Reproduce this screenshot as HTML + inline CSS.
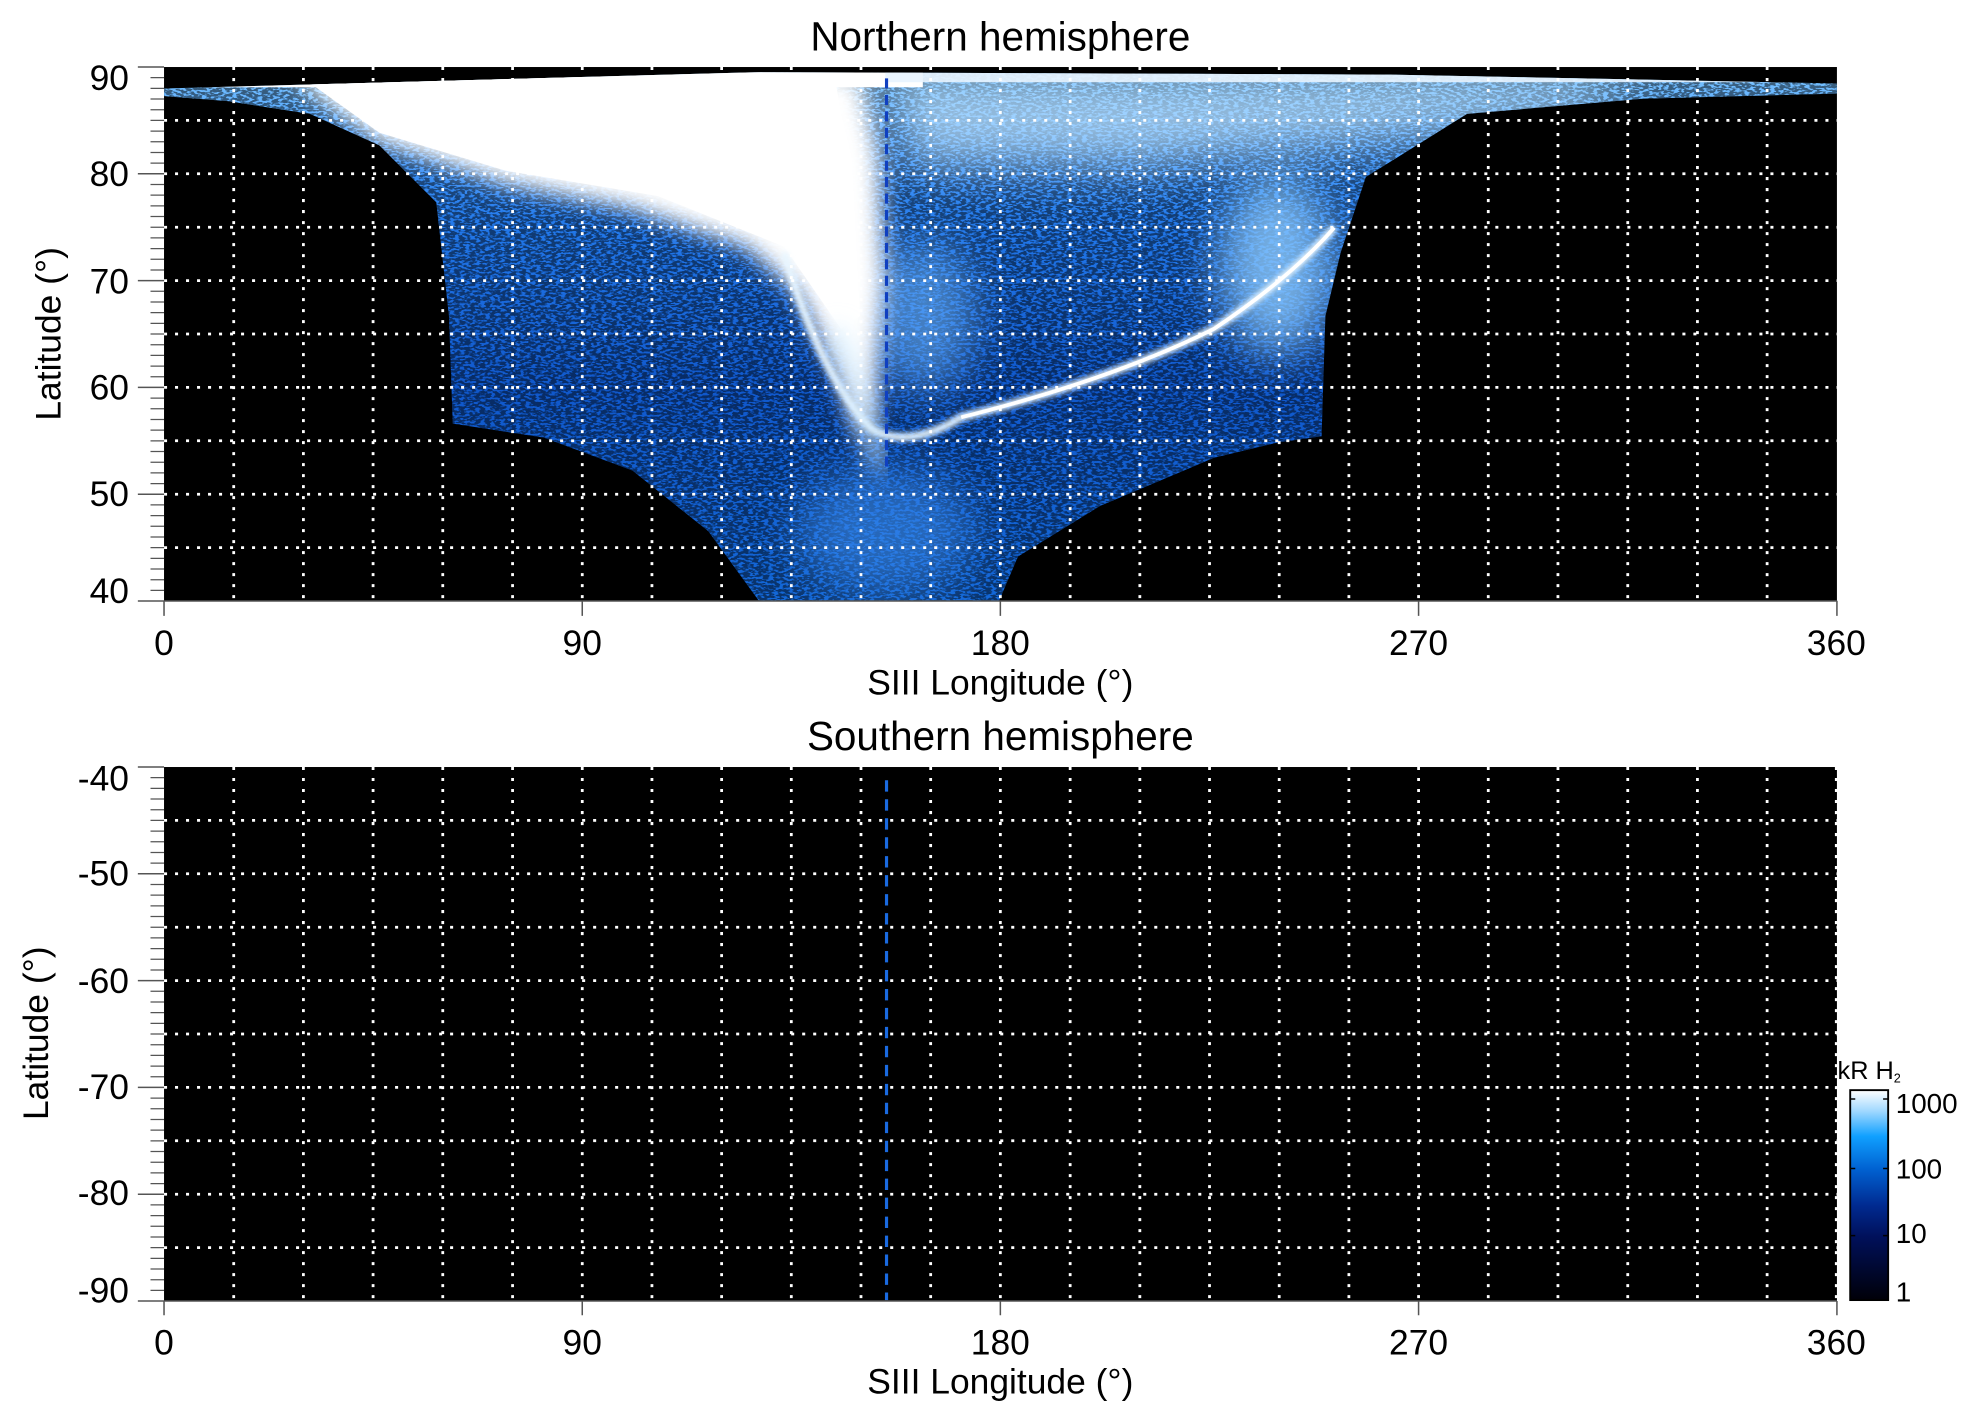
<!DOCTYPE html>
<html><head><meta charset="utf-8"><style>html,body{margin:0;padding:0;background:#fff}svg{display:block}</style></head>
<body>
<svg width="1983" height="1423" viewBox="0 0 1568 1125.2" xmlns="http://www.w3.org/2000/svg" font-family="Liberation Sans, Arial, sans-serif">
<defs>
<linearGradient id="cb" x1="0" y1="1" x2="0" y2="0">
<stop offset="0" stop-color="#000008"/><stop offset="0.3" stop-color="#00105a"/><stop offset="0.45" stop-color="#002a90"/><stop offset="0.62" stop-color="#0060d0"/><stop offset="0.78" stop-color="#10a0ff"/><stop offset="0.9" stop-color="#a0d8ff"/><stop offset="1" stop-color="#ffffff"/>
</linearGradient>
<linearGradient id="base" x1="0" y1="0" x2="0" y2="1">
<stop offset="0" stop-color="#80c8ff"/><stop offset="0.12" stop-color="#4aa0ff"/><stop offset="0.3" stop-color="#2278ea"/><stop offset="0.6" stop-color="#1058cc"/><stop offset="1" stop-color="#1468d8"/>
</linearGradient>
<filter id="bl" x="-20%" y="-20%" width="140%" height="140%"><feGaussianBlur stdDeviation="9"/></filter>
<filter id="bl3" x="-50%" y="-50%" width="200%" height="200%"><feGaussianBlur stdDeviation="18"/></filter>
<filter id="bl2"><feGaussianBlur stdDeviation="2"/></filter>
<filter id="noise" x="0" y="0" width="100%" height="100%">
<feTurbulence type="fractalNoise" baseFrequency="0.25 0.6" numOctaves="2" seed="3" result="t"/>
<feColorMatrix in="t" type="matrix" values="0 0 0 0 0  0 0 0 0 0  0 0 0 0 0  0 0 0 -9 5.3" result="m"/>
<feComposite in="m" in2="SourceGraphic" operator="in"/>
</filter>
<clipPath id="c1"><rect x="129.7" y="53" width="1322.8" height="422.2"/></clipPath>
<clipPath id="aur"><path d="M129.7,70 L600,57 L1100,59 L1452.5,66 L1452.5,74 L1300,78 L1160,90 L1080,140 L1060,200 L1048,250 L1045,345 L1010,350 L960,362 L870,400 L805,440 L790,475 L600,475 L560,420 L500,372 L430,346 L358,335 L355,250 L345,160 L300,115 L245,90 L180,80 L129.7,76 Z"/></clipPath>
</defs>

<rect x="129.7" y="53" width="1322.8" height="422.2" fill="#000"/>
<g clip-path="url(#c1)">
<g clip-path="url(#aur)">
<rect x="129.7" y="53" width="1322.8" height="422.2" fill="url(#base)"/>
<rect x="129.7" y="53" width="1322.8" height="422.2" fill="#000" filter="url(#noise)" opacity="0.5"/>
<ellipse cx="1010" cy="210" rx="45" ry="70" fill="#8ccaff" filter="url(#bl3)" opacity="0.8"/>
<ellipse cx="730" cy="250" rx="40" ry="60" fill="#6ab4ff" filter="url(#bl3)" opacity="0.6"/>
<ellipse cx="700" cy="420" rx="70" ry="50" fill="#3a8cf0" filter="url(#bl3)" opacity="0.6"/>
<path d="M700,58 L1300,62 L1250,90 L1100,110 L900,130 L720,130 Z" fill="#b8e0ff" filter="url(#bl3)" opacity="0.75"/>
<path d="M230,60 L680,58 L695,120 L700,220 L690,330 L682,350 L665,300 L630,230 L590,195 L500,165 L400,145 L300,112 Z" fill="#ffffff" filter="url(#bl)"/>
<path d="M240,62 L660,60 L675,150 L680,250 L665,260 L620,195 L520,155 L400,135 L300,105 Z" fill="#fff"/>
<path d="M620,200 Q650,300 690,340 Q720,355 760,330 Q880,300 960,260 Q1020,220 1055,180" stroke="#e8f6ff" stroke-width="6" fill="none" filter="url(#bl2)"/>
<path d="M760,330 Q880,300 960,260 Q1020,220 1055,180" stroke="#ffffff" stroke-width="3" fill="none"/>
<path d="M660,260 Q690,330 695,370" stroke="#d0ecff" stroke-width="10" fill="none" filter="url(#bl)"/>
<rect x="129.7" y="55" width="600" height="14" fill="#fff"/>
<rect x="700" y="55" width="760" height="10" fill="#e8f4ff" opacity="0.9"/>
</g>
<line x1="701" y1="62" x2="701" y2="370" stroke="#1040c0" stroke-width="2.5" stroke-dasharray="8 5"/>
<g stroke="#fff" stroke-width="2.2" stroke-dasharray="2.4 6.3">
<path d="M184.8,53V475 M239.9,53V475 M295,53V475 M350.1,53V475 M405.3,53V475 M460.4,53V475 M515.5,53V475 M570.6,53V475 M625.7,53V475 M680.8,53V475 M735.9,53V475 M791,53V475 M846.2,53V475 M901.3,53V475 M956.4,53V475 M1011.5,53V475 M1066.6,53V475 M1121.7,53V475 M1176.8,53V475 M1231.9,53V475 M1287.1,53V475 M1342.2,53V475 M1397.3,53V475"/>
<path d="M129.7,95.2H1452.5 M129.7,137.4H1452.5 M129.7,179.7H1452.5 M129.7,221.9H1452.5 M129.7,264.1H1452.5 M129.7,306.3H1452.5 M129.7,348.5H1452.5 M129.7,390.8H1452.5 M129.7,433H1452.5"/>
</g>
</g>

<rect x="129.7" y="606.5" width="1322.8" height="422.2" fill="#000"/>
<g stroke="#fff" stroke-width="2.2" stroke-dasharray="2.4 6.3">
<path d="M184.8,606.5V1028.7 M239.9,606.5V1028.7 M295,606.5V1028.7 M350.1,606.5V1028.7 M405.3,606.5V1028.7 M460.4,606.5V1028.7 M515.5,606.5V1028.7 M570.6,606.5V1028.7 M625.7,606.5V1028.7 M680.8,606.5V1028.7 M735.9,606.5V1028.7 M791,606.5V1028.7 M846.2,606.5V1028.7 M901.3,606.5V1028.7 M956.4,606.5V1028.7 M1011.5,606.5V1028.7 M1066.6,606.5V1028.7 M1121.7,606.5V1028.7 M1176.8,606.5V1028.7 M1231.9,606.5V1028.7 M1287.1,606.5V1028.7 M1342.2,606.5V1028.7 M1397.3,606.5V1028.7 M1452,606.5V1028.7"/>
<path d="M129.7,648.7H1452.5 M129.7,690.9H1452.5 M129.7,733.2H1452.5 M129.7,775.4H1452.5 M129.7,817.6H1452.5 M129.7,859.8H1452.5 M129.7,902H1452.5 M129.7,944.3H1452.5 M129.7,986.5H1452.5"/>
</g>
<line x1="701" y1="617" x2="701" y2="1028" stroke="#1a6ae0" stroke-width="2.5" stroke-dasharray="9 6"/>

<g font-size="28" fill="#000" text-anchor="end">
<text x="102" y="71">90</text><text x="102" y="147">80</text><text x="102" y="232">70</text><text x="102" y="316">60</text><text x="102" y="400">50</text><text x="102" y="477">40</text>
<text x="102" y="625">-40</text><text x="102" y="700">-50</text><text x="102" y="785">-60</text><text x="102" y="869">-70</text><text x="102" y="953">-80</text><text x="102" y="1030">-90</text>
</g>
<g font-size="28" fill="#000" text-anchor="middle">
<text x="129.7" y="518">0</text><text x="460.4" y="518">90</text><text x="791" y="518">180</text><text x="1121.7" y="518">270</text><text x="1452" y="518">360</text>
<text x="791" y="549">SIII Longitude (°)</text>
<text x="129.7" y="1071">0</text><text x="460.4" y="1071">90</text><text x="791" y="1071">180</text><text x="1121.7" y="1071">270</text><text x="1452" y="1071">360</text>
<text x="791" y="1102">SIII Longitude (°)</text>
<text x="791" y="40" font-size="32">Northern hemisphere</text>
<text x="791" y="593" font-size="32">Southern hemisphere</text>
<text transform="translate(48,264) rotate(-90)">Latitude (°)</text>
<text transform="translate(38,817) rotate(-90)">Latitude (°)</text>
</g>

<rect x="1463" y="862" width="30" height="166" fill="url(#cb)" stroke="#000" stroke-width="1.5"/>
<g font-size="22" fill="#000">
<text x="1499" y="880">1000</text><text x="1499" y="932">100</text><text x="1499" y="983">10</text><text x="1499" y="1029">1</text>
<text x="1453" y="853" font-size="20">kR H<tspan font-size="10" dy="3">2</tspan></text>
</g>
<g stroke="#000" stroke-width="1.2">
<path d="M1463,869h4 M1463,924h4 M1463,977h4 M1489,869h4 M1489,924h4 M1489,977h4"/>
</g>

<g stroke="#555" stroke-width="1.2">
<path d="M109,53H129.7 M109,137.4H129.7 M109,221.9H129.7 M109,306.3H129.7 M109,390.8H129.7 M109,475.2H129.7
M109,606.5H129.7 M109,690.9H129.7 M109,775.4H129.7 M109,859.8H129.7 M109,944.3H129.7 M109,1028.7H129.7"/>
<path stroke-width="1" d="M119,61.4h10.7 M119,69.9h10.7 M119,78.3h10.7 M119,86.8h10.7 M119,95.2h10.7 M119,103.7h10.7 M119,112.1h10.7 M119,120.6h10.7 M119,129h10.7 M119,145.9h10.7 M119,154.3h10.7 M119,162.8h10.7 M119,171.2h10.7 M119,179.7h10.7 M119,188.1h10.7 M119,196.6h10.7 M119,205h10.7 M119,213.5h10.7 M119,230.3h10.7 M119,238.8h10.7 M119,247.2h10.7 M119,255.7h10.7 M119,264.1h10.7 M119,272.6h10.7 M119,281h10.7 M119,289.5h10.7 M119,297.9h10.7 M119,314.8h10.7 M119,323.2h10.7 M119,331.7h10.7 M119,340.1h10.7 M119,348.6h10.7 M119,357h10.7 M119,365.5h10.7 M119,373.9h10.7 M119,382.4h10.7 M119,399.2h10.7 M119,407.7h10.7 M119,416.1h10.7 M119,424.6h10.7 M119,433h10.7 M119,441.5h10.7 M119,449.9h10.7 M119,458.4h10.7 M119,466.8h10.7
M119,614.9h10.7 M119,623.4h10.7 M119,631.8h10.7 M119,640.3h10.7 M119,648.7h10.7 M119,657.2h10.7 M119,665.6h10.7 M119,674.1h10.7 M119,682.5h10.7 M119,699.4h10.7 M119,707.8h10.7 M119,716.3h10.7 M119,724.7h10.7 M119,733.2h10.7 M119,741.6h10.7 M119,750.1h10.7 M119,758.5h10.7 M119,767h10.7 M119,783.8h10.7 M119,792.3h10.7 M119,800.7h10.7 M119,809.2h10.7 M119,817.6h10.7 M119,826.1h10.7 M119,834.5h10.7 M119,843h10.7 M119,851.4h10.7 M119,868.3h10.7 M119,876.7h10.7 M119,885.2h10.7 M119,893.6h10.7 M119,902.1h10.7 M119,910.5h10.7 M119,919h10.7 M119,927.4h10.7 M119,935.9h10.7 M119,952.7h10.7 M119,961.2h10.7 M119,969.6h10.7 M119,978.1h10.7 M119,986.5h10.7 M119,995h10.7 M119,1003.4h10.7 M119,1011.9h10.7 M119,1020.3h10.7"/>
<path d="M129.7,475V487 M460.4,475V487 M791,475V487 M1121.7,475V487 M1452.5,475V487 M129.7,1028.7V1040 M460.4,1028.7V1040 M791,1028.7V1040 M1121.7,1028.7V1040 M1452.5,1028.7V1040"/>
<path d="M129.7,475.2H1452.5 M129.7,1028.7H1452.5"/>
</g>
</svg>
</body></html>
